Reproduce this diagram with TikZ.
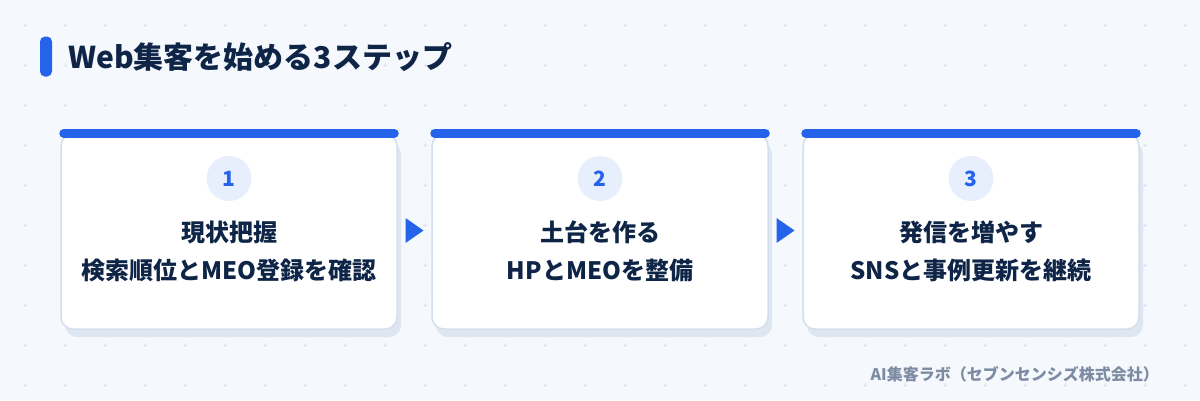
\documentclass[tikz,border=0pt]{standalone}
\usepackage{fontspec}
\setmainfont{Noto Sans CJK JP}
\usepackage{tikz}
\usetikzlibrary{shadows,calc}
\definecolor{pagebg}{HTML}{F5F8FC}
\definecolor{gridmark}{HTML}{DDE4EE}
\definecolor{stepblue}{HTML}{2563EB}
\definecolor{navy}{HTML}{0F2547}
\definecolor{cardline}{HTML}{D4DFEE}
\definecolor{cardshade}{HTML}{DEE6F1}
\definecolor{numfill}{HTML}{E7EFFC}
\definecolor{footgray}{HTML}{7D8BA3}
\tikzset{
  card/.style={
    rectangle,rounded corners=12pt,
    minimum width=336pt,minimum height=195pt,
    fill=white,draw=cardline,line width=1.5pt,
    general shadow={fill=cardshade,draw=none,shadow xshift=4pt,shadow yshift=-8pt},
  },
  cardbar/.style={draw=stepblue,line width=9pt,line cap=round},
  stepnum/.style={
    circle,fill=numfill,minimum size=45pt,inner sep=0pt,
    text=stepblue,font=\fontsize{21}{24}\selectfont\bfseries,
  },
  steptext/.style={
    align=center,text=navy,inner sep=0pt,
    font=\fontsize{24}{38}\selectfont\bfseries,
  },
  steparrow/.style={fill=stepblue},
}

\begin{document}
\begin{tikzpicture}[x=1pt,y=-1pt]
  \useasboundingbox[fill=pagebg] (0,0) rectangle (1200,400);
  % background marks
  \foreach \x in {25,65,...,1185}
    \foreach \y in {25,65,...,385}
      \draw[gridmark,line width=0.8pt] (\x-2,\y) -- (\x+2,\y) (\x,\y-2) -- (\x,\y+2);

  % title
  \node (tbar) [rectangle,rounded corners=5pt,fill=stepblue,minimum width=12pt,
    minimum height=40pt,inner sep=0pt] at (46,56.5) {};
  \node (title) [anchor=west,inner sep=0pt,text=navy,
    font=\fontsize{30}{36}\selectfont\bfseries] at (68,57) {Web集客を始める3ステップ};

  % cards
  \node (card1) [card] at (229,231.5) {};
  \node (card2) [card] at (600,231.5) {};
  \node (card3) [card] at (971,231.5) {};
  \draw [cardbar] ([xshift=3.5pt]card1.north west) -- ([xshift=-3.5pt]card1.north east);
  \draw [cardbar] ([xshift=3.5pt]card2.north west) -- ([xshift=-3.5pt]card2.north east);
  \draw [cardbar] ([xshift=3.5pt]card3.north west) -- ([xshift=-3.5pt]card3.north east);

  \node (num1) [stepnum] at ([yshift=53pt]card1.center) {1};
  \node (num2) [stepnum] at ([yshift=53pt]card2.center) {2};
  \node (num3) [stepnum] at ([yshift=53pt]card3.center) {3};

  \node (txt1) [steptext] at ([yshift=-20pt]card1.center) {現状把握\\検索順位とMEO登録を確認};
  \node (txt2) [steptext] at ([yshift=-20pt]card2.center) {土台を作る\\HPとMEOを整備};
  \node (txt3) [steptext] at ([yshift=-20pt]card3.center) {発信を増やす\\SNSと事例更新を継続};

  % arrows between cards
  \coordinate (arr1) at ($(card1.east)!0.5!(card2.west)+(0,-1)$);
  \coordinate (arr2) at ($(card2.east)!0.5!(card3.west)+(0,-1)$);
  \fill [steparrow] (arr1) ++(-9,-12.5) -- ++(18,12.5) -- ++(-18,12.5) -- cycle;
  \fill [steparrow] (arr2) ++(-9,-12.5) -- ++(18,12.5) -- ++(-18,12.5) -- cycle;

  % footer
  \node (foot) [anchor=east,inner sep=0pt,text=footgray,
    font=\fontsize{16}{18}\selectfont\bfseries] at (1159,374) {AI集客ラボ（セブンセンシズ株式会社）};
\end{tikzpicture}
\end{document}
